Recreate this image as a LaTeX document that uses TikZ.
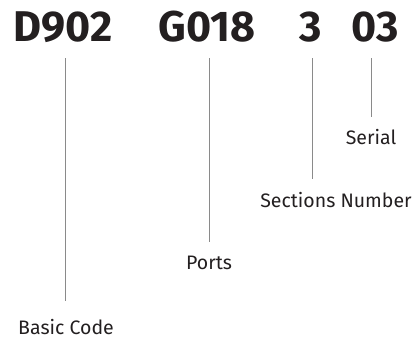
\documentclass[tikz,border=0pt]{standalone}
\usepackage{fontspec}
\setmainfont{Fira Sans}
\definecolor{ink}{HTML}{231F20}
\definecolor{stem}{HTML}{8A8A8A}
\begin{document}
\begin{tikzpicture}[x=1pt,y=-1pt,
    code/.style={font=\fontsize{43}{43}\selectfont\bfseries, text=ink, inner sep=0pt},
    part/.style={font=\fontsize{19.5}{20}\selectfont, text=ink, inner sep=0pt, anchor=base},
    stick/.style={draw=stem, line width=0.9pt}]
    \useasboundingbox (0,0) rectangle (418,340);

    % the code itself
    \node[code] (d902) at (63,27) {D902};
    \node[code] (g018) at (207,27) {G018};
    \node[code] (sec) at (311,27) {3};
    \node[code] (ser) at (375,27) {03};

    % what each part means
    \node[part] (serial) at (371,144) {Serial};
    \node[part] (secnum) at (336,207) {Sections Number};
    \node[part] (ports) at (209,269) {Ports};
    \node[part] (basic) at (66,334) {Basic Code};

    % stems from code down to label
    \coordinate (t1) at (65,58);  \coordinate (b1) at (65,301);
    \coordinate (t2) at (209,58); \coordinate (b2) at (209,242);
    \coordinate (t3) at (312,58); \coordinate (b3) at (312,179);
    \coordinate (t4) at (371,58); \coordinate (b4) at (371,117);
    \draw[stick] (t1) -- (b1);
    \draw[stick] (t2) -- (b2);
    \draw[stick] (t3) -- (b3);
    \draw[stick] (t4) -- (b4);
\end{tikzpicture}
\end{document}
